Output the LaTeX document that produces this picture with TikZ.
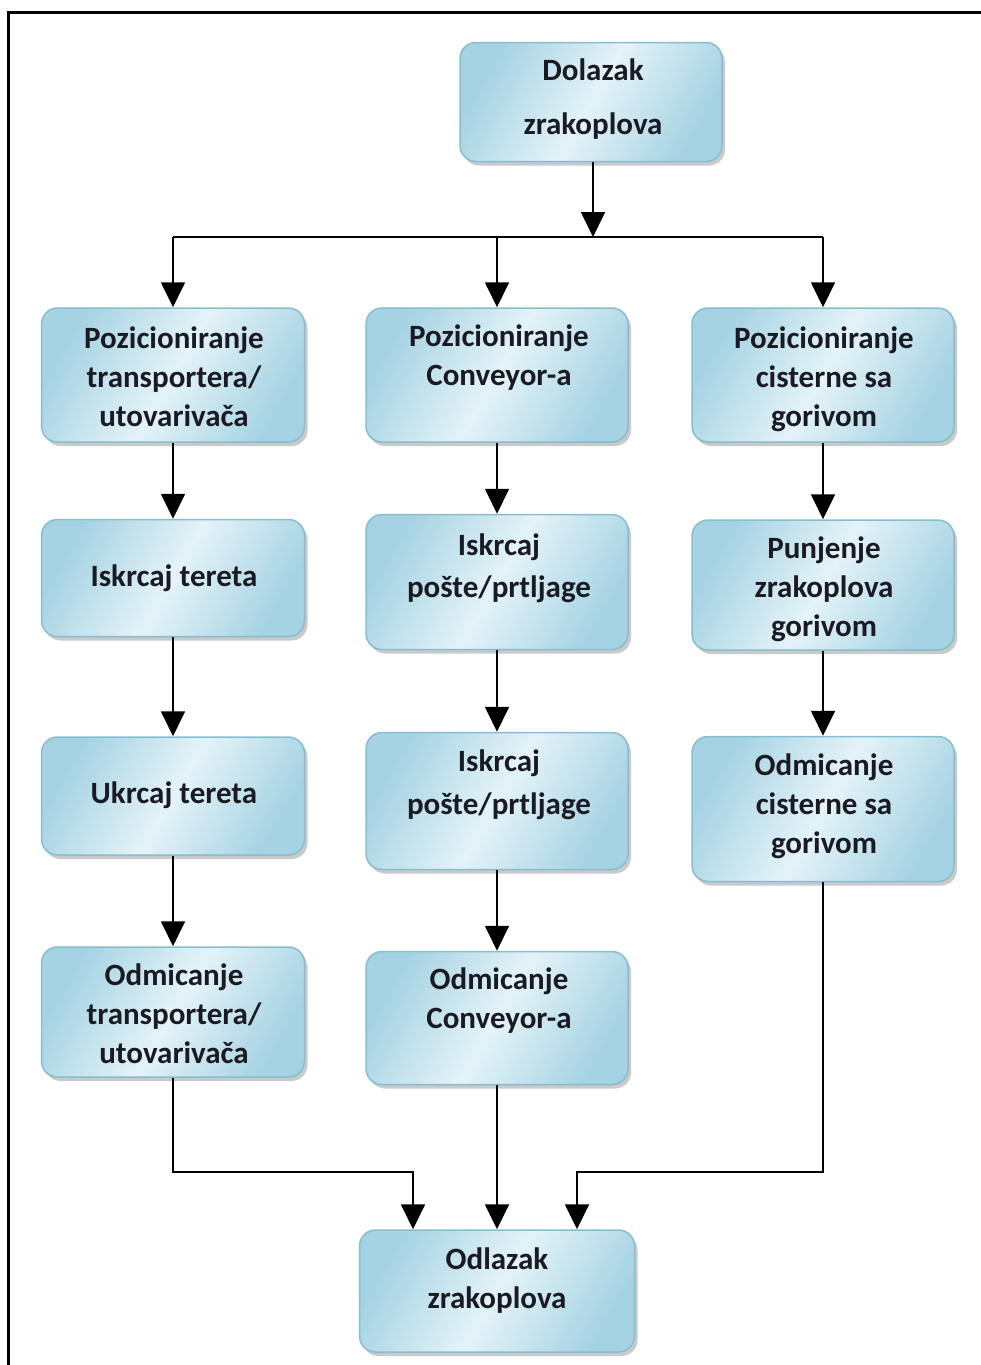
\documentclass[tikz,border=0pt]{standalone}
\usepackage{fontspec}
\setmainfont{Carlito}
\usetikzlibrary{arrows.meta,shadows,calc}
\definecolor{boxedge}{HTML}{86BDD0}
\definecolor{boxdark}{HTML}{A6D3E3}
\definecolor{boxlight}{HTML}{E4F3F8}
\definecolor{txtcol}{HTML}{1A1A22}
\tikzset{
  box/.style={draw=boxedge, line width=1.5pt, rounded corners=16pt,
    left color=boxdark, right color=boxdark, middle color=boxlight, shading angle=60,
    inner sep=0pt,
    drop shadow={shadow xshift=3pt, shadow yshift=-4pt, opacity=0.35, fill=black!60}},
  txt/.style={font=\fontsize{31}{39}\selectfont\bfseries, text=txtcol, align=center, inner sep=0pt},
  arr/.style={line width=1.8pt, -{Triangle[width=24pt,length=25pt]}},
  ln/.style={line width=1.8pt}
}
\begin{document}
\begin{tikzpicture}[x=1pt,y=-1pt]
\useasboundingbox (0,0) rectangle (980,1365);
\draw[line width=3pt] (8,1366) -- (8,12) -- (981,12);
% boxes
\node[box, minimum width=262, minimum height=119] (d) at (591,102) {};
\node[box, minimum width=263, minimum height=134] (l1) at (173,375) {};
\node[box, minimum width=263, minimum height=117] (l2) at (173,578) {};
\node[box, minimum width=263, minimum height=118] (l3) at (173,796) {};
\node[box, minimum width=263, minimum height=130] (l4) at (173,1012) {};
\node[box, minimum width=262, minimum height=134] (m1) at (497,375) {};
\node[box, minimum width=262, minimum height=135] (m2) at (497,582) {};
\node[box, minimum width=262, minimum height=137] (m3) at (497,801) {};
\node[box, minimum width=262, minimum height=133] (m4) at (497,1018) {};
\node[box, minimum width=262, minimum height=134] (r1) at (823,375) {};
\node[box, minimum width=262, minimum height=130] (r2) at (823,585) {};
\node[box, minimum width=262, minimum height=145] (r3) at (823,809) {};
\node[box, minimum width=275, minimum height=122] (f) at (497,1291) {};
% texts
\node[txt, font=\fontsize{31}{54}\selectfont\bfseries] (dt) at (593,99) {Dolazak\\zrakoplova};
\node[txt] (l1t) at (174,377) {Pozicioniranje\\transportera/\\utovarivača};
\node[txt] (l2t) at (174,578) {Iskrcaj tereta};
\node[txt] (l3t) at (174,795) {Ukrcaj tereta};
\node[txt] (l4t) at (174,1014) {Odmicanje\\transportera/\\utovarivača};
\node[txt] (m1t) at (499,358) {Pozicioniranje\\Conveyor-a};
\node[txt, font=\fontsize{31}{42}\selectfont\bfseries] (m2t) at (499,568) {Iskrcaj\\pošte/prtljage};
\node[txt, font=\fontsize{31}{43}\selectfont\bfseries] (m3t) at (499,785) {Iskrcaj\\pošte/prtljage};
\node[txt] (m4t) at (499,1001) {Odmicanje\\Conveyor-a};
\node[txt] (r1t) at (824,379) {Pozicioniranje\\cisterne sa\\gorivom};
\node[txt] (r2t) at (824,589) {Punjenje\\zrakoplova\\gorivom};
\node[txt] (r3t) at (824,806) {Odmicanje\\cisterne sa\\gorivom};
\node[txt] (ft) at (497,1281) {Odlazak\\zrakoplova};
% connectors
\coordinate (j) at (593,237);
\coordinate (bl) at (413,1172);
\coordinate (br) at (577,1172);
\draw[arr] (d.south -| j) -- (j);
\draw[ln] (j -| l1) -- (j -| r1);
\draw[arr] (j -| l1) -- (l1.north);
\draw[arr] (j -| m1) -- (m1.north);
\draw[arr] (j -| r1) -- (r1.north);
\draw[arr] (l1.south) -- (l2.north);
\draw[arr] (l2.south) -- (l3.north);
\draw[arr] (l3.south) -- (l4.north);
\draw[arr] (m1.south) -- (m2.north);
\draw[arr] (m2.south) -- (m3.north);
\draw[arr] (m3.south) -- (m4.north);
\draw[arr] (r1.south) -- (r2.north);
\draw[arr] (r2.south) -- (r3.north);
\draw[arr] (m4.south) -- (f.north);
\draw[arr] (l4.south) |- (bl) -- (bl |- f.north);
\draw[arr] (r3.south) |- (br) -- (br |- f.north);
\end{tikzpicture}
\end{document}
